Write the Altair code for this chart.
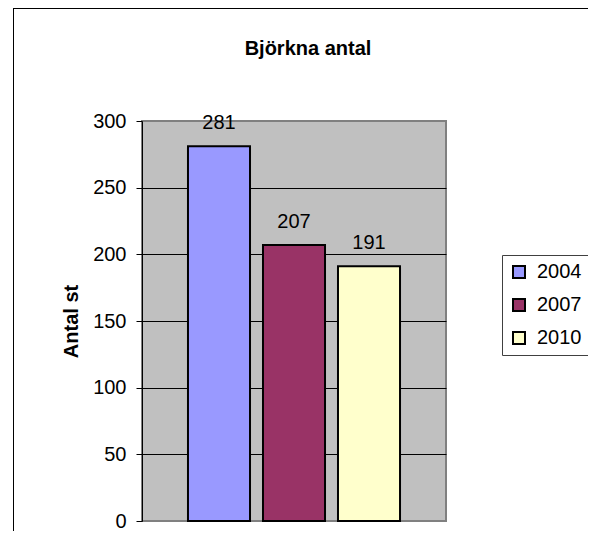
import altair as alt
import pandas as pd

years = ["2004", "2007", "2010"]
counts = [281, 207, 191]
colors = ["#9999FF", "#993366", "#FFFFCC"]
y_ticks = [0, 50, 100, 150, 200, 250, 300]

FONT = "Liberation Sans"

df = pd.DataFrame({"year": years, "count": counts})

x_enc = alt.X("year:N", scale=alt.Scale(domain=years, paddingInner=0.173, paddingOuter=0.613), axis=None)
y_scale = alt.Scale(domain=[0, 300], nice=False)

bars = alt.Chart(df).mark_bar(stroke="black", strokeWidth=2).encode(
    x=x_enc,
    y=alt.Y("count:Q", scale=y_scale, axis=alt.Axis(
        values=y_ticks, title="Antal st", titleFont=FONT, titleFontSize=20, titleFontWeight="bold",
        titleColor="black", titleX=-65, titleY=200, titleBaseline="alphabetic", titleAngle=270,
        labelFont=FONT, labelFontSize=20, labelColor="black", labelPadding=10,
        tickSize=6, tickColor="black", domainColor="black", domainWidth=1,
        grid=True, gridColor={"condition": {"test": "datum.value === 300 || datum.value === 0", "value": "#808080"}, "value": "black"},
        gridWidth=1)),
    color=alt.Color("year:N", scale=alt.Scale(domain=years, range=colors), legend=alt.Legend(
        title=None, orient="none", legendX=360, legendY=134, padding=7, strokeColor="#404040",
        fillColor="white", rowPadding=13, symbolType="square", symbolSize=144,
        symbolStrokeColor="black", symbolStrokeWidth=2, symbolOpacity=1,
        labelFont=FONT, labelFontSize=20, labelColor="black", labelOffset=8)),
)

labels = alt.Chart(df).mark_text(dy=-17, baseline="alphabetic", fontSize=20, font=FONT, color="black").encode(
    x=x_enc,
    y=alt.Y("count:Q", scale=y_scale),
    text=alt.Text("count:Q"),
)

frame_df = pd.DataFrame({"k": [0]})
frame_left = alt.Chart(frame_df).mark_rule(color="black", strokeWidth=1).encode(
    x=alt.value(-128.5), y=alt.value(-113), y2=alt.value(420))
frame_top = alt.Chart(frame_df).mark_rule(color="black", strokeWidth=1).encode(
    x=alt.value(-129), x2=alt.value(460), y=alt.value(-112.5))

chart = alt.layer(bars, labels, frame_left, frame_top).properties(
    width=304, height=400,
    title=alt.TitleParams("Björkna antal", font=FONT, fontSize=20, fontWeight="bold", color="black",
                          anchor="middle", dx=14, offset=-51),
    autosize=alt.AutoSizeParams(type="none"),
    padding={"left": 134, "top": 113, "right": 142, "bottom": 10},
    background="white",
).configure_view(fill="#C0C0C0", stroke="#808080", strokeWidth=2)

chart.save("out.html", embed_options={"renderer": "svg", "actions": False})
